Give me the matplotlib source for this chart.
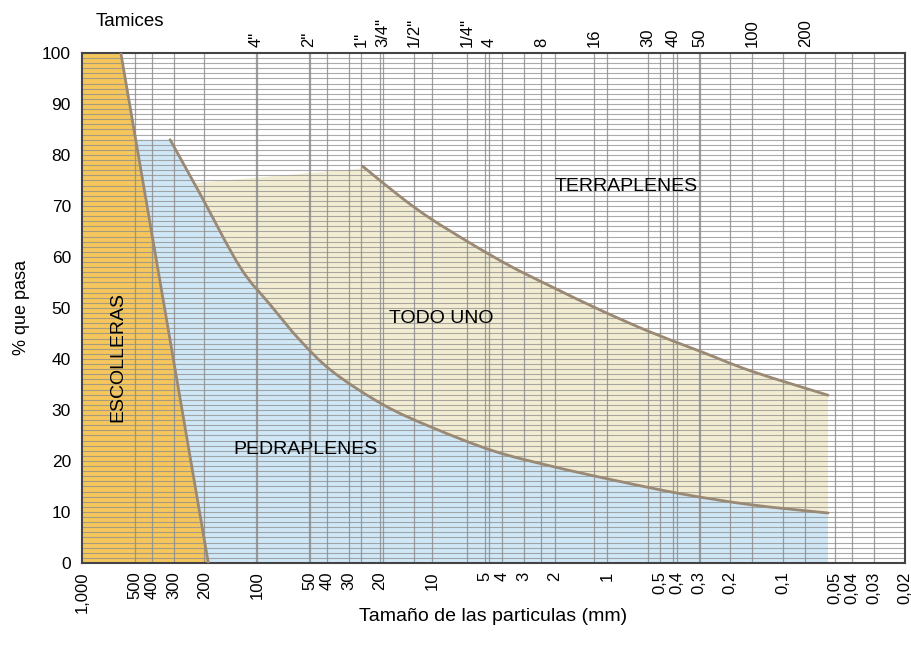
import matplotlib
matplotlib.use("Agg")
import matplotlib.pyplot as plt
from matplotlib.ticker import FixedLocator, NullLocator
from matplotlib.path import Path
from matplotlib.patches import PathPatch
import numpy as np

plt.rcParams['font.family'] = ['Liberation Sans', 'DejaVu Sans']

# particle size (mm) vs % passing
escollera_mm = [1000, 1000, 600, 190]
escollera_pct = [0, 100, 100, 0]

# lower limit of todo-uno = upper limit of pedraplenes
low_mm = [314, 212, 125, 84, 57, 37, 19, 9.9, 4.5, 2.1, 0.88, 0.37, 0.15, 0.055]
low_pct = [83, 72.4, 58, 50.6, 43.7, 37.5, 31, 26.5, 22, 19, 16.1, 13.5, 11.4, 9.8]

# upper limit of todo-uno
up_mm = [25, 15.2, 10.3, 6.06, 3.58, 2.12, 1.1, 0.57, 0.29, 0.15, 0.055]
up_pct = [77.8, 71.8, 67.6, 62.7, 58.2, 54.3, 49.6, 45.3, 41.4, 37.6, 32.9]

todo_top_pct = [74.5, 77.3]
pedra_top_pct = 83
right_mm = 0.055

bottom_ticks = [1000, 500, 400, 300, 200, 100, 50, 40, 30, 20, 10, 5, 4, 3, 2, 1,
                0.5, 0.4, 0.3, 0.2, 0.1, 0.05, 0.04, 0.03, 0.02]
bottom_labels = ["1,000", "500", "400", "300", "200", "100", "50", "40", "30", "20",
                 "10", "5", "4", "3", "2", "1", "0,5", "0,4", "0,3", "0,2", "0,1",
                 "0,05", "0,04", "0,03", "0,02"]

sieve_mm = [101.6, 50.8, 25.4, 19.05, 12.7, 6.35, 4.76, 2.38, 1.19, 0.59, 0.42,
            0.297, 0.149, 0.074]
sieve_labels = ['4"', '2"', '1"', '3/4"', '1/2"', '1/4"', '4', '8', '16', '30', '40',
                '50', '100', '200']

orange = "#F4C65C"
blue = "#CFE7F6"
beige = "#F2EDD2"
edge = "#9A8975"
grid = "#8E8E8E"


def smooth_segments(xs, ys):
    """Catmull-Rom through the points, as cubic bezier pieces (log x)."""
    lx = np.log10(xs)
    y = np.asarray(ys, float)
    n = len(lx)
    verts = []
    for i in range(n - 1):
        i0, i3 = max(i - 1, 0), min(i + 2, n - 1)
        c1 = (lx[i] + (lx[i + 1] - lx[i0]) / 6, y[i] + (y[i + 1] - y[i0]) / 6)
        c2 = (lx[i + 1] - (lx[i3] - lx[i]) / 6, y[i + 1] - (y[i3] - y[i]) / 6)
        verts += [c1, c2, (lx[i + 1], y[i + 1])]
    return [(10 ** a, b) for a, b in verts]


def curve_path(xs, ys):
    verts = [(xs[0], ys[0])] + smooth_segments(xs, ys)
    codes = [Path.MOVETO] + [Path.CURVE4] * (len(verts) - 1)
    return verts, codes


fig = plt.figure(figsize=(9.12, 6.46), dpi=100)
ax = fig.add_axes([0.0899, 0.1285, 0.9024, 0.7895])
ax.set_xscale('log')
ax.set_xlim(1000, 0.02)
ax.set_ylim(0, 100)


# boundary of escolleras at a given %
def esc_x(p):
    return np.exp(np.interp(p, [0, 100], np.log([190, 600])))


# pedraplenes (blue)
lv, lc = curve_path(low_mm, low_pct)
verts = [(esc_x(0), 0), (esc_x(pedra_top_pct), pedra_top_pct)] + lv + \
        [(right_mm, 0), (esc_x(0), 0)]
codes = [Path.MOVETO, Path.LINETO, Path.LINETO] + lc[1:] + [Path.LINETO, Path.CLOSEPOLY]
ax.add_patch(PathPatch(Path(verts, codes), facecolor=blue, lw=0, zorder=1))

# todo uno (beige) between the two curves
lo_x = np.array(low_mm[::-1])
lo_y = np.array(low_pct[::-1])
x_start = np.exp(np.interp(todo_top_pct[0], lo_y, np.log(lo_x)))
sel = np.array(low_pct) <= todo_top_pct[0]
sub_x = [x_start] + list(np.array(low_mm)[sel])
sub_y = [todo_top_pct[0]] + list(np.array(low_pct)[sel])
bv, bc = curve_path(sub_x, sub_y)
uv, uc = curve_path(up_mm[::-1], up_pct[::-1])
verts = bv + [(right_mm, up_pct[-1])] + uv + [(26, todo_top_pct[1]), (x_start, todo_top_pct[0]),
                                              bv[0]]
codes = bc + [Path.LINETO, Path.LINETO] + uc[1:] + [Path.LINETO, Path.LINETO, Path.CLOSEPOLY]
ax.add_patch(PathPatch(Path(verts, codes), facecolor=beige, lw=0, zorder=1))

# escolleras (orange)
ax.fill(escollera_mm, escollera_pct, color=orange, zorder=1.5, lw=0)

# grid: every 1 % and at every labelled size / sieve
for v in range(1, 100):
    ax.axhline(v, color=grid, lw=0.8, alpha=0.75, zorder=2)
for v in sorted(set(bottom_ticks[1:] + sieve_mm)):
    ax.axvline(v, color=grid, lw=0.9, alpha=0.85, zorder=2)

ax.plot(escollera_mm[2:], escollera_pct[2:], color=edge, lw=2, zorder=4)
for xs, ys in [(low_mm, low_pct), (up_mm, up_pct)]:
    v, c = curve_path(xs, ys)
    ax.add_patch(PathPatch(Path(v, c), facecolor='none', edgecolor=edge, lw=2,
                           zorder=4, capstyle='round'))

ax.xaxis.set_major_locator(FixedLocator(bottom_ticks))
ax.xaxis.set_minor_locator(NullLocator())
ax.set_xticklabels(bottom_labels, rotation=90, fontsize=12)
ax.set_yticks(range(0, 101, 10))
ax.tick_params(which='both', length=0, pad=6)
ax.tick_params(axis='y', labelsize=12.5, pad=8)

top = ax.secondary_xaxis('top')
top.set_xticks(sieve_mm)
top.set_xticklabels(sieve_labels, rotation=90, fontsize=12)
top.tick_params(length=0, pad=4)
top.xaxis.set_minor_locator(NullLocator())

for s in ax.spines.values():
    s.set_color("#444444")
    s.set_linewidth(1.5)
top.spines['top'].set_visible(False)

ax.text(0.044, 0.404, "ESCOLLERAS", transform=ax.transAxes, rotation=90,
        ha='center', va='center', fontsize=14, zorder=5)
ax.text(0.271, 0.222, "PEDRAPLENES", transform=ax.transAxes,
        ha='center', va='center', fontsize=14, zorder=5)
ax.text(0.437, 0.48, "TODO UNO", transform=ax.transAxes,
        ha='center', va='center', fontsize=14, zorder=5)
ax.text(0.661, 0.739, "TERRAPLENES", transform=ax.transAxes,
        ha='center', va='center', fontsize=14, zorder=5)

fig.text(0.1425, 0.966, "Tamices", ha='center', va='center', fontsize=13.5)
ax.set_ylabel("% que pasa", fontsize=13)
ax.yaxis.set_label_coords(-0.063, 0.5)
ax.set_xlabel("Tamaño de las particulas (mm)", fontsize=14)
ax.xaxis.set_label_coords(0.5, -0.088)

fig.savefig("out.png", dpi=100)
